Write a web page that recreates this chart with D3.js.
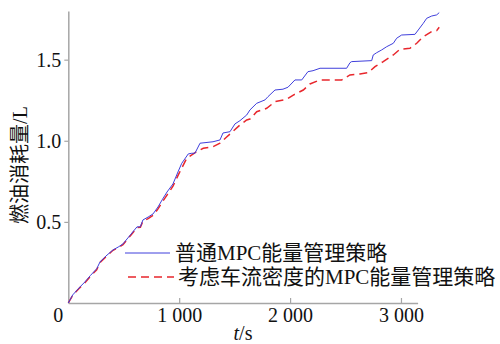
<!DOCTYPE html>
<html>
<head>
<meta charset="utf-8">
<script src="https://cdn.jsdelivr.net/npm/d3@7"></script>
<style>
  body { margin: 0; background: #fff; }
  svg { display: block; }
</style>
</head>
<body>
<svg id="chart"></svg>
<script>
// 普通MPC能量管理策略
const timeBlue = [0, 40, 105, 150, 200, 256, 286, 340, 403, 450, 493, 560, 619, 650, 673, 720, 764, 809, 850, 890, 944, 989,
  1023, 1082, 1113, 1142, 1188, 1305, 1368, 1395, 1458, 1503, 1548, 1609, 1638, 1699, 1774, 1801, 1864, 1936, 1981,
  2044, 2105, 2161, 2207, 2270, 2510, 2540, 2555, 2736, 2750, 2781, 2826, 2871, 2931, 2961, 3006, 3126, 3156, 3201,
  3232, 3277, 3322, 3345];
const fuelBlue = [0, 0.05, 0.099, 0.13, 0.17, 0.211, 0.253, 0.29, 0.327, 0.345, 0.364, 0.42, 0.469, 0.47, 0.512, 0.53, 0.549, 0.592, 0.64, 0.684, 0.734, 0.808,
  0.861, 0.919, 0.923, 0.923, 0.985, 0.994, 1.005, 1.048, 1.056, 1.104, 1.124, 1.159, 1.19, 1.231, 1.252, 1.272, 1.313, 1.318, 1.33,
  1.375, 1.375, 1.426, 1.432, 1.447, 1.447, 1.481, 1.488, 1.494, 1.529, 1.543, 1.56, 1.58, 1.601, 1.632, 1.652, 1.656, 1.683, 1.724,
  1.755, 1.769, 1.776, 1.79];

// 考虑车流密度的MPC能量管理策略
const timeRed = [0, 40, 105, 150, 200, 256, 286, 340, 403, 450, 493, 560, 619, 650, 673, 720, 764, 809, 850, 890, 944, 992,
  1068, 1158, 1217, 1307, 1368, 1428, 1488, 1548, 1609, 1638, 1699, 1789, 1864, 1969, 2029, 2119, 2179, 2270, 2465,
  2540, 2630, 2705, 2766, 2840, 2931, 2991, 3081, 3142, 3201, 3277, 3322, 3345];
const fuelRed = [0, 0.048, 0.095, 0.125, 0.165, 0.205, 0.25, 0.285, 0.325, 0.34, 0.36, 0.415, 0.465, 0.467, 0.505, 0.52, 0.54, 0.58, 0.625, 0.665, 0.72, 0.79,
  0.892, 0.933, 0.954, 0.964, 0.986, 1.023, 1.06, 1.097, 1.128, 1.134, 1.179, 1.2, 1.241, 1.256, 1.282, 1.313, 1.35, 1.375, 1.375,
  1.406, 1.412, 1.42, 1.457, 1.488, 1.529, 1.564, 1.57, 1.601, 1.642, 1.673, 1.679, 1.7];

const xTicks = [1000, 2000, 3000];
const yTicks = [0.5, 1.0, 1.5];
const seriesNames = ["普通MPC能量管理策略", "考虑车流密度的MPC能量管理策略"];

const width = 500, height = 344;
const serif = '"Liberation Serif", "Noto Sans CJK SC", serif';
const axisColor = "#a6a6a6";
const blue = "#3f3fdc", red = "#e8262c";

const svg = d3.select("#chart").attr("width", width).attr("height", height);

const x = d3.scaleLinear().domain([0, 3150]).range([68.3, 417.6]);
const y = d3.scaleLinear().domain([0, 1.8]).range([303, 11]);

// x axis, ticks pointing inward
const gX = svg.append("g")
  .attr("transform", `translate(0,${y(0)})`)
  .call(d3.axisBottom(x).tickValues(xTicks).tickSizeInner(-5).tickSizeOuter(0).tickPadding(5)
    .tickFormat(d => d3.format(",")(d).replace(",", " ")));

// y axis, ticks pointing outward
const gY = svg.append("g")
  .attr("transform", `translate(${x(0)},0)`)
  .call(d3.axisLeft(y).tickValues(yTicks).tickSizeInner(4).tickSizeOuter(0).tickPadding(3)
    .tickFormat(d3.format(".1f")));

[gX, gY].forEach(g => {
  g.select(".domain").attr("stroke", axisColor).attr("stroke-width", 1.5);
  g.selectAll(".tick line").attr("stroke", axisColor).attr("stroke-width", 1.2);
  g.selectAll("text").attr("fill", "#111").style("font-family", serif).style("font-size", "20px");
});

// shared origin label
svg.append("text")
  .attr("x", x(0) - 10).attr("y", y(0) + 5)
  .attr("dy", "0.71em")
  .attr("text-anchor", "middle")
  .style("font-family", serif).style("font-size", "20px").attr("fill", "#111")
  .text("0");

// curves
const line = d3.line().x(d => x(d[0])).y(d => y(d[1]));

svg.append("path")
  .datum(d3.zip(timeRed, fuelRed))
  .attr("fill", "none")
  .attr("stroke", red)
  .attr("stroke-width", 1.5)
  .attr("stroke-dasharray", "8,5")
  .attr("d", line);

svg.append("path")
  .datum(d3.zip(timeBlue, fuelBlue))
  .attr("fill", "none")
  .attr("stroke", blue)
  .attr("stroke-width", 1)
  .attr("d", line);

// legend
const legend = [
  { name: seriesNames[0], color: blue, dash: null, width: 1, x1: 125, x2: 170, tx: 175, ty: 253 },
  { name: seriesNames[1], color: red, dash: "8,5", width: 1.5, x1: 128, x2: 174, tx: 178, ty: 277 }
];
legend.forEach(l => {
  svg.append("line")
    .attr("x1", l.x1).attr("x2", l.x2).attr("y1", l.ty).attr("y2", l.ty)
    .attr("stroke", l.color).attr("stroke-width", l.width)
    .attr("stroke-dasharray", l.dash);
  svg.append("text")
    .attr("x", l.tx).attr("y", l.ty)
    .attr("dominant-baseline", "central")
    .style("font-family", serif).style("font-size", "21px").attr("fill", "#111")
    .text(l.name);
});

// axis titles
svg.append("text")
  .attr("x", 243).attr("y", 340)
  .attr("text-anchor", "middle")
  .style("font-family", serif).style("font-size", "20px").attr("fill", "#111")
  .call(t => {
    t.append("tspan").style("font-style", "italic").text("t");
    t.append("tspan").text("/s");
  });

svg.append("text")
  .attr("transform", "translate(20,165) rotate(-90)")
  .attr("text-anchor", "middle")
  .attr("dominant-baseline", "central")
  .style("font-family", serif).style("font-size", "20px").attr("fill", "#111")
  .text("燃油消耗量/L");
</script>
</body>
</html>
